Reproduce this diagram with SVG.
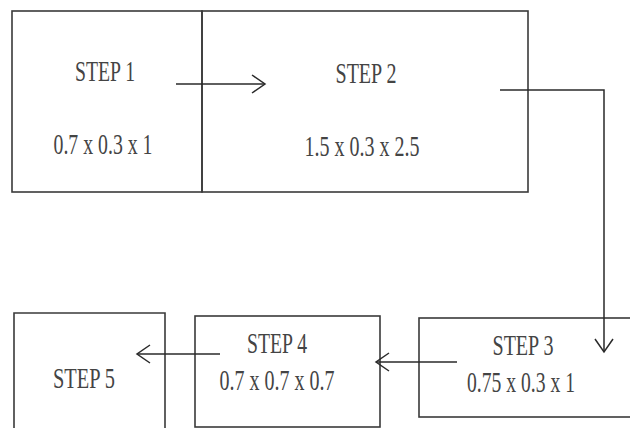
<svg xmlns="http://www.w3.org/2000/svg" width="630" height="428" viewBox="0 0 630 428">
<style>
.box{fill:none;stroke:#3a3a3a;stroke-width:1.6}
.con{fill:none;stroke:#2a2a2a;stroke-width:1.5}
text{font-family:"Liberation Serif","Times New Roman",serif;font-size:29px;fill:#444;text-anchor:middle}
</style>
<defs>
<marker id="open" markerUnits="userSpaceOnUse" markerWidth="30" markerHeight="30" viewBox="-15 -15 30 30" refX="0" refY="0" orient="auto">
<path d="M-13,-9 L0,0 L-13,9" fill="none" stroke="#2a2a2a" stroke-width="1.5"/>
</marker>
</defs>
<rect width="630" height="428" fill="#fff"/>
<g id="step1">
<rect class="box" x="12" y="11" width="190" height="181"/>
<text x="105" y="81" textLength="60" lengthAdjust="spacingAndGlyphs">STEP 1</text>
<text x="103" y="154" textLength="99" lengthAdjust="spacingAndGlyphs">0.7 x 0.3 x 1</text>
</g>
<g id="step2">
<rect class="box" x="202" y="11" width="326" height="181"/>
<text x="366" y="83" textLength="61" lengthAdjust="spacingAndGlyphs">STEP 2</text>
<text x="362" y="156" textLength="115" lengthAdjust="spacingAndGlyphs">1.5 x 0.3 x 2.5</text>
</g>
<g id="step3">
<rect class="box" x="419" y="318" width="230" height="99"/>
<text x="523" y="355" textLength="61" lengthAdjust="spacingAndGlyphs">STEP 3</text>
<text x="521" y="392" textLength="108" lengthAdjust="spacingAndGlyphs">0.75 x 0.3 x 1</text>
</g>
<g id="step4">
<rect class="box" x="195" y="316" width="185" height="111"/>
<text x="277" y="353" textLength="60" lengthAdjust="spacingAndGlyphs">STEP 4</text>
<text x="277" y="390" textLength="115" lengthAdjust="spacingAndGlyphs">0.7 x 0.7 x 0.7</text>
</g>
<g id="step5">
<path class="box" d="M14,440 V313 H165 V440"/>
<text x="84" y="388" textLength="62" lengthAdjust="spacingAndGlyphs">STEP 5</text>
</g>
<g id="connectors">
<path class="con" d="M176,84 H265" marker-end="url(#open)"/>
<path class="con" d="M500,90 H604 V352" marker-end="url(#open)"/>
<path class="con" d="M457,362 H376" marker-end="url(#open)"/>
<path class="con" d="M220,354 H137" marker-end="url(#open)"/>
</g>
</svg>
